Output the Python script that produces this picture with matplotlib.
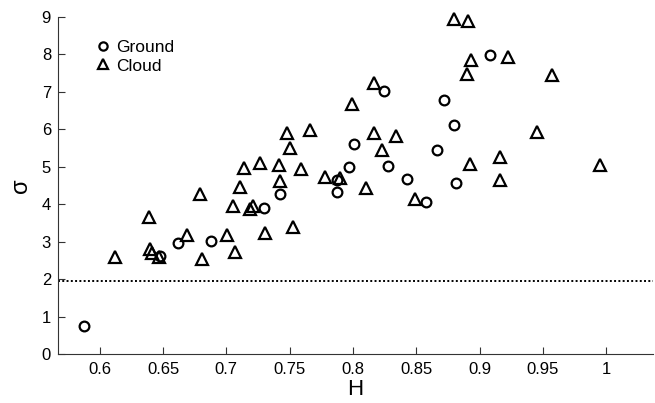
import numpy as np
import matplotlib.pyplot as plt
from matplotlib.ticker import FuncFormatter

plt.rcParams["font.family"] = ["Liberation Sans", "DejaVu Sans"]

# ground-based points (H, sigma)
ground_h = [0.5874, 0.6475, 0.662, 0.688, 0.730, 0.7425, 0.787, 0.7877, 0.7966,
            0.8008, 0.8244, 0.8278, 0.8428, 0.8577, 0.8664, 0.8717, 0.880, 0.8814,
            0.9084]
ground_s = [0.75, 2.62, 2.97, 3.03, 3.89, 4.27, 4.32, 4.65, 5.00,
            5.61, 7.03, 5.02, 4.67, 4.07, 5.45, 6.78, 6.12, 4.58,
            7.99]

# cloud points (H, sigma)
cloud_h = [0.6123, 0.6386, 0.6394, 0.6412, 0.6467, 0.669, 0.679, 0.6806, 0.7008,
           0.7055, 0.7066, 0.7105, 0.719, 0.7207, 0.7307, 0.7423, 0.753, 0.7142,
           0.7265, 0.7415, 0.7478, 0.7501, 0.7588, 0.7659, 0.7782, 0.7895, 0.799,
           0.8795, 0.8908, 0.8935, 0.8898, 0.9228, 0.9572, 0.8163, 0.8168, 0.8336,
           0.8226, 0.9457, 0.8927, 0.916, 0.916, 0.9953, 0.810, 0.8488]
cloud_s = [2.58, 3.67, 2.81, 2.71, 2.60, 3.18, 4.27, 2.53, 3.18,
           3.95, 2.73, 4.47, 3.87, 3.95, 3.24, 4.63, 3.40, 4.96,
           5.09, 5.06, 5.89, 5.49, 4.93, 5.97, 4.74, 4.71, 6.68,
           8.95, 8.90, 7.85, 7.48, 7.92, 7.46, 7.25, 5.89, 5.82,
           5.45, 5.92, 5.07, 5.27, 4.64, 5.06, 4.42, 4.14]

threshold = 1.96
xticks = [0.6, 0.65, 0.7, 0.75, 0.8, 0.85, 0.9, 0.95, 1.0]

fig = plt.figure(figsize=(6.55, 4.03), dpi=100)
ax = fig.add_axes([58 / 655, 49 / 403, 595 / 655, 337 / 403])

ax.plot(ground_h, ground_s, "o", ms=7, mfc="none", mec="black", mew=1.6,
        label="Ground", zorder=3, clip_on=False)
ax.plot(cloud_h, cloud_s, "^", ms=8, mfc="none", mec="black", mew=1.6,
        label="Cloud", zorder=3, clip_on=False)
ax.axhline(threshold, color="black", ls=(0, (1, 1.2)), lw=1.4)

ax.set_xlim(0.567, 1.037)
ax.set_ylim(0, 9)
ax.set_xticks(xticks)
ax.set_yticks(range(10))
ax.xaxis.set_major_formatter(FuncFormatter(lambda v, p: f"{v:g}"))
ax.tick_params(direction="in", length=5, labelsize=12, color="#333333")
ax.tick_params(axis="x", pad=6)
ax.tick_params(axis="y", pad=5)

for s in ["top", "right"]:
    ax.spines[s].set_visible(False)
for s in ["left", "bottom"]:
    ax.spines[s].set_color("#333333")

ax.set_xlabel("H", fontsize=16, labelpad=1)
ax.set_ylabel("σ", fontsize=17, labelpad=7)

ax.legend(loc="upper left", frameon=False, fontsize=12.5, handletextpad=0.25,
          borderaxespad=0.0, handlelength=1.0, labelspacing=0.2,
          markerscale=0.85, bbox_to_anchor=(0.05, 0.953))

fig.savefig("out.png", dpi=100)
